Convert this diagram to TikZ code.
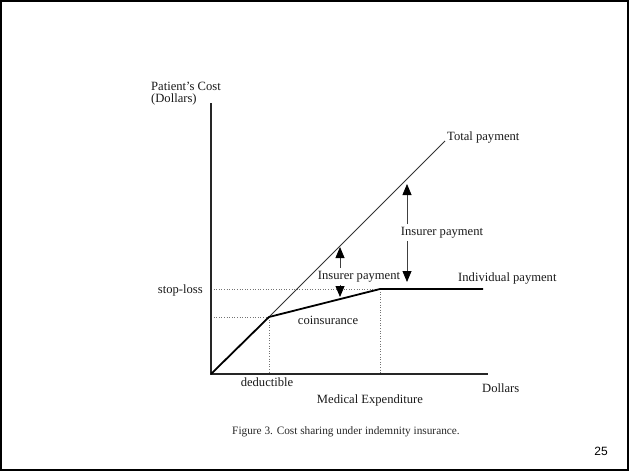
\documentclass[tikz,border=0pt]{standalone}
\usepackage{fontspec}
\setmainfont{Liberation Serif}
\newfontfamily\numfont{Liberation Sans}
\usetikzlibrary{arrows.meta}
\tikzset{
  lbl/.style={inner sep=0pt, text=black!90, font=\fontsize{12.6}{14}\selectfont},
  axis/.style={line width=1.4pt, draw=black!85},
  guide/.style={line width=0.6pt, draw=black!55, dotted},
  total/.style={line width=0.8pt, draw=black!80},
  indiv/.style={line width=1.8pt, draw=black},
  pay/.style={line width=0.8pt, draw=black!75, -{Triangle[length=11pt,width=9pt,color=black,fill=black]}}
}
\begin{document}
\begin{tikzpicture}[x=1pt,y=-1pt]
\useasboundingbox (0,0) rectangle (629,471);
\draw[line width=2pt] (1,1) rectangle (628,470);
% key points
\coordinate (O) at (211,374);
\coordinate (Ytop) at (211,103);
\coordinate (Xend) at (488,374);
\coordinate (D) at (269,317);
\coordinate (S) at (380,289);
\coordinate (E) at (483,289);
\coordinate (T) at (445,141);
\coordinate (Dy) at (211,317);
\coordinate (Sy) at (211,289);
\coordinate (Dx) at (269,374);
\coordinate (Sx) at (380,374);
% guides
\draw[guide] (Dy) -- (D);
\draw[guide] (Sy) -- (S);
\draw[guide] (D) -- (Dx);
\draw[guide] (S) -- (Sx);
% axes
\draw[axis] (Ytop) -- (O) -- (Xend);
% lines
\draw[total] (D) -- (T);
\draw[indiv, line join=round] (O) -- (D) -- (S) -- (E);
% labels
\node[lbl, anchor=west] (pc) at (151,86) {Patient's Cost};
\node[lbl, anchor=west] (pd) at (151,99) {(Dollars)};
\node[lbl, anchor=west] (tp) at (447,137) {Total payment};
\node[lbl] (ip2) at (442,233) {Insurer payment};
\node[lbl] (ip1) at (359,277) {Insurer payment};
\node[lbl, anchor=west] (ind) at (458,278) {Individual payment};
\node[lbl, anchor=east] (sl) at (203,290) {stop-loss};
\node[lbl] (co) at (328,320) {coinsurance};
\node[lbl] (de) at (267,382) {deductible};
\node[lbl, anchor=west] (dol) at (482,388) {Dollars};
\node[lbl] (me) at (370,400) {Medical Expenditure};
\node[inner sep=0pt, text=black!85, font=\fontsize{11.3}{13}\selectfont] (cap) at (346,432) {Figure 3. Cost sharing under indemnity insurance.};
\node[inner sep=0pt, font=\numfont\fontsize{12}{14}\selectfont] (pg) at (601,451) {25};
% arrow anchors
\coordinate (a1t) at (340,247);
\coordinate (a1s) at (340,268);
\coordinate (a1u) at (340,285);
\coordinate (a1b) at (340,297);
\coordinate (a2t) at (407,184);
\coordinate (a2s) at (407,224);
\coordinate (a2u) at (407,241);
\coordinate (a2b) at (407,282);
\draw[pay] (a1s) -- (a1t);
\draw[pay] (a1u) -- (a1b);
\draw[pay] (a2s) -- (a2t);
\draw[pay] (a2u) -- (a2b);
\end{tikzpicture}
\end{document}
